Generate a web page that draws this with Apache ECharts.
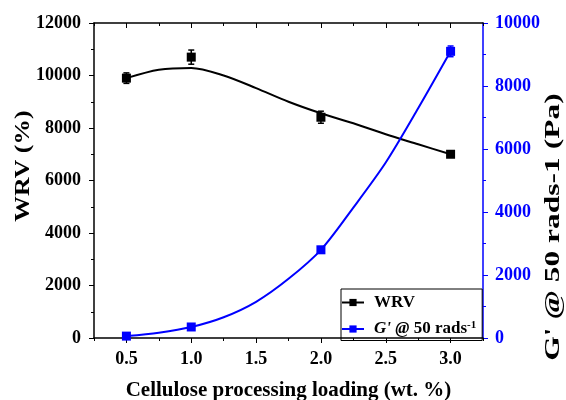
<!DOCTYPE html>
<html><head><meta charset="utf-8">
<script src="https://cdn.jsdelivr.net/npm/echarts@6/dist/echarts.min.js"></script>
<style>html,body{margin:0;padding:0;background:#fff}#c{width:566px;height:400px}</style>
</head><body><div id="c"></div>
<script>
// ---- data ----
const loading = [0.5, 1.0, 2.0, 3.0];
const wrv = [9900, 10700, 8410, 7000];
const wrvErr = [200, 270, 230, 100];
const gPrime = [60, 350, 2800, 9100];
const gPrimeErr = [40, 60, 100, 170];
// fitted curves
const fitX = [0.5, 0.75, 1.0, 1.25, 1.5, 1.75, 2.0, 2.25, 2.5, 2.75, 3.0];
const wrvFitY = [9900, 10220, 10290, 10000, 9520, 9000, 8560, 8180, 7760, 7380, 7000];
const gFitY = [60, 170, 350, 660, 1150, 1880, 2800, 4140, 5570, 7290, 9100];
const xTickValues = [0.5, 1.0, 1.5, 2.0, 2.5, 3.0];
const wrvName = 'WRV';
const gName = "G' @ 50 rads-1";
const yLeftTitle = 'WRV (%)';
const yRightTitle = "G' @ 50 rads-1 (Pa)";
const xTitle = 'Cellulose processing loading (wt. %)';

const FONT = 'Liberation Serif';
const BLUE = '#0000ff';

function errRender(color) {
  return function (params, api) {
    const x = api.value(0), y = api.value(1), e = api.value(2);
    const top = api.coord([x, y + e]), bot = api.coord([x, y - e]);
    const hw = 3;
    const style = { stroke: color, lineWidth: 1.5 };
    return { type: 'group', children: [
      { type: 'line', shape: { x1: top[0], y1: top[1], x2: bot[0], y2: bot[1] }, style },
      { type: 'line', shape: { x1: top[0] - hw, y1: top[1], x2: top[0] + hw, y2: top[1] }, style },
      { type: 'line', shape: { x1: bot[0] - hw, y1: bot[1], x2: bot[0] + hw, y2: bot[1] }, style }
    ] };
  };
}

const baseX = { type: 'value', min: 0.25, max: 3.25, splitLine: { show: false }, gridIndex: 0 };
const chart = echarts.init(document.getElementById('c'), null, { renderer: 'canvas' });
chart.setOption({
  animation: false,
  backgroundColor: '#fff',
  grid: { left: 94, right: 83, top: 23, bottom: 62, containLabel: false, outerBoundsMode: 'none' },
  graphic: [
    { type: 'text', x: 23, y: 166, rotation: Math.PI / 2, scaleX: 1.17, silent: true,
      style: { text: yLeftTitle, fontFamily: FONT, fontWeight: 'bold', fontSize: 22, fill: '#000',
        align: 'center', verticalAlign: 'middle' } },
    { type: 'text', x: 554, y: 227, rotation: Math.PI / 2, scaleX: 1.5, silent: true,
      style: { text: yRightTitle, fontFamily: FONT, fontWeight: 'bold', fontSize: 21, fill: '#000',
        align: 'center', verticalAlign: 'middle' } }
  ],
  legend: {
    orient: 'vertical', left: 341, top: 289,
    data: [wrvName, gName],
    borderColor: '#000', borderWidth: 1, borderRadius: 0,
    padding: [5, 6, 3, 0], itemGap: 9, itemWidth: 22, itemHeight: 9,
    lineStyle: { opacity: 1, width: 2 },
    textStyle: { fontFamily: FONT, fontWeight: 'bold', fontSize: 17, color: '#000', padding: [0, 0, 0, 5],
      rich: {
        it: { fontFamily: FONT, fontWeight: 'bold', fontStyle: 'italic', fontSize: 17 },
        n: { fontFamily: FONT, fontWeight: 'bold', fontSize: 17 },
        sup: { fontFamily: FONT, fontWeight: 'bold', fontSize: 11, verticalAlign: 'top', padding: [0, 0, 7, 0] }
      } },
    formatter: function (n) { return n === wrvName ? 'WRV' : "{it|G' @} {n|50 rads}{sup|-1}"; }
  },
  xAxis: [
    Object.assign({}, baseX, { position: 'bottom', interval: 0.25,
      axisLine: { show: true, lineStyle: { color: '#000', width: 1.5 } },
      axisTick: { show: true, inside: false, length: 3, lineStyle: { color: '#000', width: 1 } },
      axisLabel: { show: false } }),
    Object.assign({}, baseX, { position: 'bottom',
      axisLine: { show: false },
      axisTick: { show: true, inside: false, length: 5, customValues: xTickValues, lineStyle: { color: '#000', width: 1 } },
      axisLabel: { show: true, customValues: xTickValues, formatter: v => v.toFixed(1), margin: 12,
        fontFamily: FONT, fontWeight: 'bold', fontSize: 18, color: '#000' },
      name: xTitle, nameLocation: 'middle', nameGap: 42,
      nameTextStyle: { fontFamily: FONT, fontWeight: 'bold', fontSize: 21, color: '#000' } }),
    Object.assign({}, baseX, { position: 'top', interval: 0.25,
      axisLine: { show: true, lineStyle: { color: '#000', width: 1.5 } },
      axisTick: { show: true, inside: true, length: 3, lineStyle: { color: '#000', width: 1 } },
      axisLabel: { show: false } }),
    Object.assign({}, baseX, { position: 'top',
      axisLine: { show: false },
      axisTick: { show: true, inside: true, length: 5, customValues: xTickValues, lineStyle: { color: '#000', width: 1 } },
      axisLabel: { show: false } })
  ],
  yAxis: [
    { type: 'value', position: 'left', min: 0, max: 12000, interval: 2000,
      splitLine: { show: false },
      axisLine: { show: true, lineStyle: { color: '#000', width: 1.5 } },
      axisTick: { show: true, inside: false, length: 5, lineStyle: { color: '#000', width: 1 } },
      minorTick: { show: true, splitNumber: 2, length: 3, lineStyle: { color: '#000', width: 1 } },
      axisLabel: { margin: 13, formatter: v => String(v), fontFamily: FONT, fontWeight: 'bold', fontSize: 18, color: '#000' } },
    { type: 'value', position: 'right', min: 0, max: 10000, interval: 2000,
      splitLine: { show: false },
      axisLine: { show: true, lineStyle: { color: BLUE, width: 1.5 } },
      axisTick: { show: true, inside: false, length: 5, lineStyle: { color: BLUE, width: 1 } },
      minorTick: { show: true, splitNumber: 2, length: 3, lineStyle: { color: BLUE, width: 1 } },
      axisLabel: { margin: 12, formatter: v => String(v), fontFamily: FONT, fontWeight: 'bold', fontSize: 18, color: BLUE } }
  ],
  series: [
    { name: 'WRV fit', type: 'line', xAxisIndex: 0, yAxisIndex: 0, smooth: 0.3,
      symbol: 'none', data: fitX.map((x, i) => [x, wrvFitY[i]]),
      lineStyle: { color: '#000', width: 2 }, z: 2, silent: true },
    { name: wrvName, type: 'line', xAxisIndex: 0, yAxisIndex: 0,
      data: loading.map((x, i) => [x, wrv[i]]),
      symbol: 'rect', symbolSize: 9, itemStyle: { color: '#000' },
      lineStyle: { color: '#000', width: 2, opacity: 0 }, z: 5 },
    { name: 'wrvErr', type: 'custom', xAxisIndex: 0, yAxisIndex: 0,
      renderItem: errRender('#000'), data: loading.map((x, i) => [x, wrv[i], wrvErr[i]]), z: 4 },
    { name: 'G fit', type: 'line', xAxisIndex: 0, yAxisIndex: 1, smooth: 0.3,
      symbol: 'none', data: fitX.map((x, i) => [x, gFitY[i]]),
      lineStyle: { color: BLUE, width: 2 }, z: 2, silent: true },
    { name: gName, type: 'line', xAxisIndex: 0, yAxisIndex: 1,
      data: loading.map((x, i) => [x, gPrime[i]]),
      symbol: 'rect', symbolSize: 9, itemStyle: { color: BLUE },
      lineStyle: { color: BLUE, width: 2, opacity: 0 }, z: 5 },
    { name: 'gErr', type: 'custom', xAxisIndex: 0, yAxisIndex: 1,
      renderItem: errRender(BLUE), data: loading.map((x, i) => [x, gPrime[i], gPrimeErr[i]]), z: 4 }
  ]
});
</script></body></html>
